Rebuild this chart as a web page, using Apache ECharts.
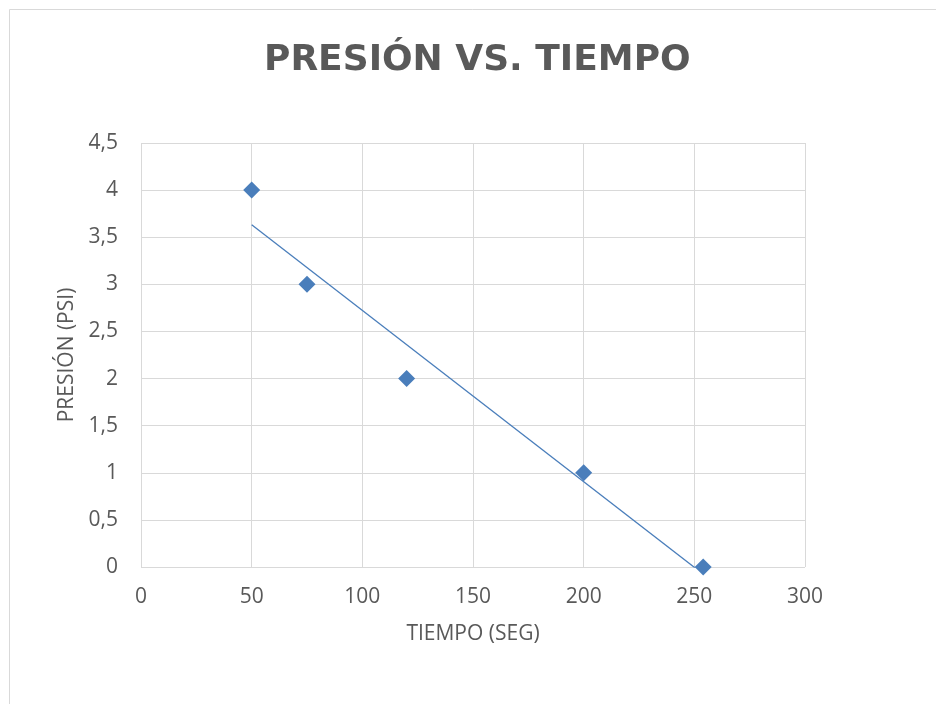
<!DOCTYPE html>
<html><head><meta charset="utf-8">
<script src="https://cdn.jsdelivr.net/npm/echarts@6/dist/echarts.min.js"></script>
<style>html,body{margin:0;padding:0;background:#fff}#c{width:936px;height:704px}</style>
</head><body><div id="c"></div>
<script>
const titleText = 'PRESIÓN VS. TIEMPO';
const xName = 'TIEMPO (SEG)';
const yName = 'PRESIÓN (PSI)';
const tiempo = [50, 75, 120, 200, 254];
const presion = [4, 3, 2, 1, 0];

// linear trendline (least squares) computed from the data
const n = tiempo.length;
const mx = tiempo.reduce((a,b)=>a+b,0)/n;
const my = presion.reduce((a,b)=>a+b,0)/n;
let sxy=0, sxx=0;
for (let i=0;i<n;i++){ sxy += (tiempo[i]-mx)*(presion[i]-my); sxx += (tiempo[i]-mx)**2; }
const slope = sxy/sxx, icpt = my - slope*mx;
const xMin = Math.min(...tiempo), xMax = Math.max(...tiempo);
const trend = [[xMin, icpt+slope*xMin], [xMax, icpt+slope*xMax]];

const chart = echarts.init(document.getElementById('c'));
const fontFam = '"Open Sans", "Noto Sans", sans-serif';
chart.setOption({
  animation: false,
  backgroundColor: '#fff',
  graphic: [{ type: 'polyline', shape: { points: [[9.5, 704], [9.5, 9.5], [936, 9.5]] }, style: { stroke: '#d9d9d9', lineWidth: 1, fill: null } }],
  title: { text: titleText, left: 259, top: 38, textStyle: { fontFamily: '"DejaVu Sans", sans-serif', fontWeight: 'bold', fontSize: 36, color: '#595959' } },
  grid: { left: 141, top: 143, right: 131, bottom: 137, containLabel: false },
  xAxis: { type: 'value', min: 0, max: 300, interval: 50,
    name: xName, nameLocation: 'middle', nameGap: 57,
    nameTextStyle: { fontFamily: fontFam, fontSize: 21, color: '#595959' },
    axisLine: { show: false }, axisTick: { show: false },
    axisLabel: { margin: 20, fontFamily: fontFam, fontSize: 21, color: '#595959' },
    splitLine: { show: true, lineStyle: { color: '#d9d9d9', width: 1 } } },
  yAxis: { type: 'value', min: 0, max: 4.5, interval: 0.5,
    name: yName, nameLocation: 'middle', nameGap: 62,
    nameTextStyle: { fontFamily: fontFam, fontSize: 21, color: '#595959' },
    axisLine: { show: false }, axisTick: { show: false },
    axisLabel: { margin: 23, fontFamily: fontFam, fontSize: 21, color: '#595959', formatter: v => String(v).replace('.', ',') },
    splitLine: { show: true, lineStyle: { color: '#d9d9d9', width: 1 } } },
  series: [
    { type: 'line', data: trend, symbol: 'none', clip: true, lineStyle: { color: '#4a7ebb', width: 1.3 }, z: 2 },
    { type: 'scatter', data: tiempo.map((t,i)=>[t, presion[i]]), symbol: 'diamond', symbolSize: [17, 17], itemStyle: { color: '#4a7ebb', opacity: 1 }, clip: false, z: 3 }
  ]
});
</script></body></html>
